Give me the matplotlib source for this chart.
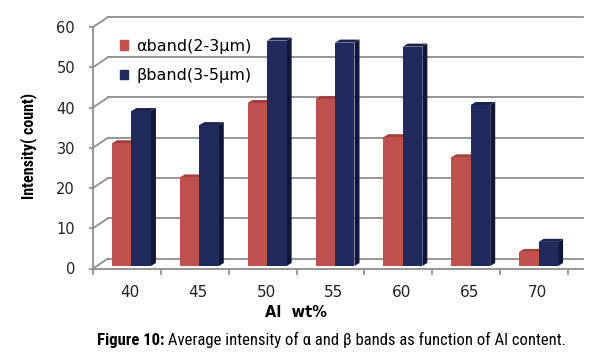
import numpy as np
import matplotlib
matplotlib.use("Agg")
import matplotlib.pyplot as plt
import matplotlib.patches as mpatches
from matplotlib.transforms import offset_copy

# data
al_wt = ["40", "45", "50", "55", "60", "65", "70"]
alpha_band = [30.5, 22, 40.5, 41.5, 32, 27, 3.5]
beta_band = [38.5, 35, 56, 55.5, 54.5, 40, 6]
yticks = [0, 10, 20, 30, 40, 50, 60]

red, red_top, red_side = "#C0504D", "#A33F3C", "#8E3330"
blue, blue_top, blue_side = "#212A5C", "#1A2250", "#101638"
grid_col = "#8E8E8E"
narrow = ["Liberation Sans Narrow", "Roboto Condensed", "DejaVu Sans Condensed", "Liberation Sans"]

W, H = 609, 363
fig = plt.figure(figsize=(W / 100, H / 100), dpi=100)
fig.patch.set_facecolor("white")

# front axes in pixel terms: x axis 93..583, zero at y=268.5, 60 at y=27
left_px, right_px, y0_px, y60_px = 93, 583, 268.5, 27
ax = fig.add_axes([left_px / W, (H - y0_px) / H, (right_px - left_px) / W, (y0_px - y60_px) / H])

px_y = 60 / (y0_px - y60_px)             # data units per pixel (y)
wall_dx_px, wall_dy_px = 15, 10           # back wall offset in pixels
n = len(al_wt)
px_x = (n + wall_dx_px / 68.0) / (right_px - left_px)
wx, wy = wall_dx_px * px_x, wall_dy_px * px_y
ax.set_xlim(-0.5, n - 0.5 + wx)
ax.set_ylim(0, 60)

# back wall gridlines + side wall diagonals
for v in yticks:
    ax.plot([-0.5 + wx, n - 0.5 + wx], [v + wy, v + wy], color=grid_col, lw=1.3, clip_on=False, zorder=1)
    ax.plot([-0.5, -0.5 + wx], [v, v + wy], color=grid_col, lw=1.3, clip_on=False, zorder=1)

# bars, front faces shifted slightly into the depth
bar_tr = offset_copy(ax.transData, fig=fig, x=4.5, y=2.5, units="dots")
x = np.arange(n)
bw = 19.5 * px_x
ddx, ddy = 5 * px_x, 3 * px_y             # bar depth
for vals, off, cf, ct, cs in [(alpha_band, -bw, red, red_top, red_side),
                              (beta_band, 0, blue, blue_top, blue_side)]:
    for xi, v in zip(x, vals):
        x0, x1 = xi + off, xi + off + bw
        ax.add_patch(mpatches.Polygon([(x1, 0), (x1 + ddx, ddy), (x1 + ddx, v + ddy), (x1, v)],
                                      closed=True, fc=cs, ec="none", transform=bar_tr, zorder=2, clip_on=False))
        ax.add_patch(mpatches.Polygon([(x0, v), (x1, v), (x1 + ddx, v + ddy), (x0 + ddx, v + ddy)],
                                      closed=True, fc=ct, ec="none", transform=bar_tr, zorder=2, clip_on=False))
    ax.bar(x + off, vals, width=bw, align="edge", color=cf, transform=bar_tr, zorder=3, clip_on=False)

# spines and ticks
for s in ["top", "right"]:
    ax.spines[s].set_visible(False)
for s in ["left", "bottom"]:
    ax.spines[s].set_color(grid_col)
    ax.spines[s].set_linewidth(1.3)
ax.set_yticks(yticks)
ax.set_yticklabels([str(v) for v in yticks], fontsize=10.5, color="#222222")
ax.tick_params(axis="y", length=3, width=1.2, color=grid_col, pad=10)
ax.set_xticks(np.arange(-0.5, n, 1.0))
ax.set_xticklabels([])
ax.tick_params(axis="x", which="major", length=4, width=1.2, color=grid_col)
ax.set_xticks(x + 0.05, minor=True)
ax.set_xticklabels(al_wt, minor=True, fontsize=11, color="#222222")
ax.tick_params(axis="x", which="minor", length=0, pad=12)
ax.set_facecolor("none")

ax.set_xlabel("Al  wt%", fontsize=10.5, fontweight="bold")
ax.xaxis.set_label_coords((296 - left_px) / (right_px - left_px), -0.15)
ax.set_ylabel("Intensity( count)", fontsize=11.5, fontweight="bold", family=narrow)
ax.yaxis.set_label_coords((37 - left_px) / (right_px - left_px), (y0_px - 146) / (y0_px - y60_px))

handles = [mpatches.Patch(color=red, label="\u03b1band(2-3\u03bcm)"),
           mpatches.Patch(color=blue, label="\u03b2band(3-5\u03bcm)")]
ax.legend(handles=handles, loc="upper left", bbox_to_anchor=(0.025, 1.01), frameon=False,
          fontsize=11.5, handlelength=0.55, handleheight=0.55, handletextpad=0.5, labelspacing=0.9)

# caption
t1 = fig.text(97 / W, (H - 340) / H, "Figure 10:", fontsize=12, fontweight="bold",
              family=narrow, va="center")
ax.annotate(" Average intensity of \u03b1 and \u03b2 bands as function of Al content.",
            xy=(1, 0.5), xycoords=t1, va="center", fontsize=12, family=narrow)

fig.savefig("out.png", dpi=100)
